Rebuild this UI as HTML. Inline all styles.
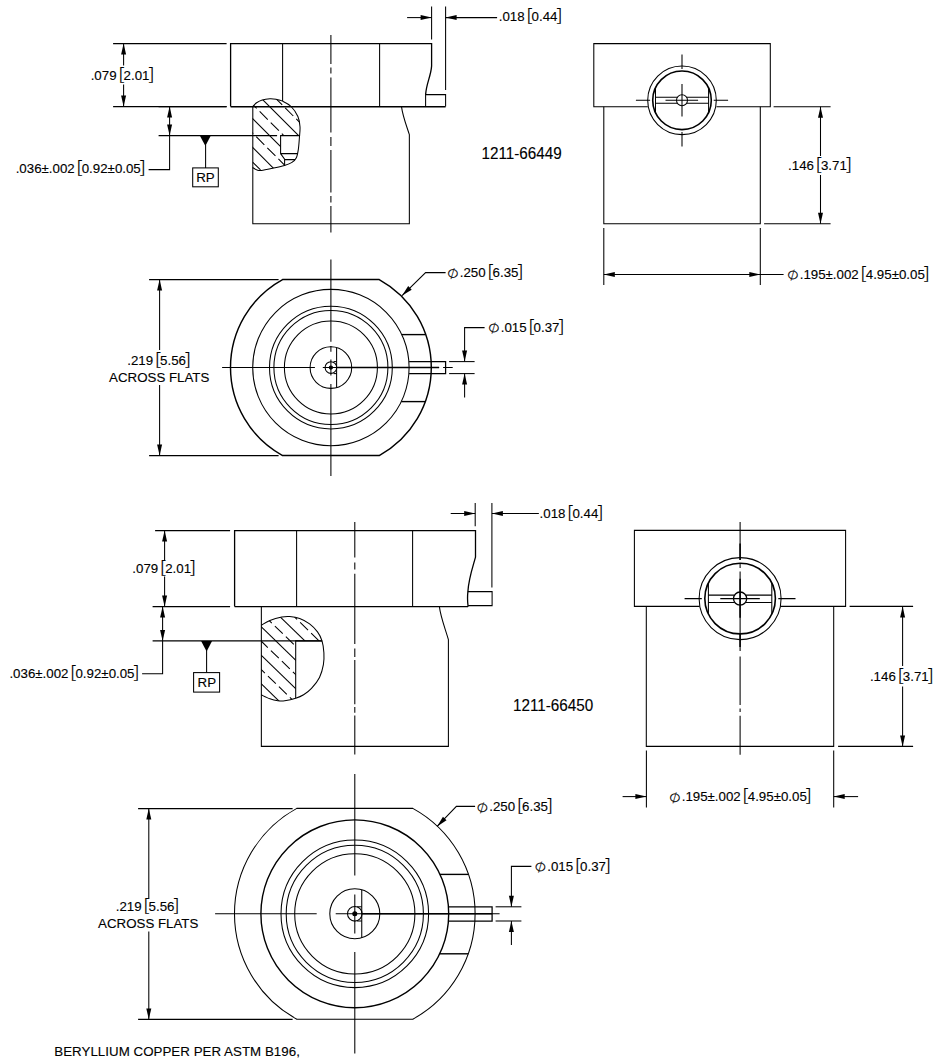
<!DOCTYPE html>
<html><head><meta charset="utf-8"><title>1211-66449 / 1211-66450</title>
<style>
html,body{margin:0;padding:0;background:#fff;}
body{width:948px;height:1059px;overflow:hidden;}
svg{display:block;}
svg line,svg path,svg circle,svg rect{stroke:#000;stroke-width:1.05;fill:none;}
svg .ar{fill:#000;stroke:none;}
svg text{font-family:"Liberation Sans",Arial,sans-serif;font-size:13.3px;fill:#000;stroke:#000;stroke-width:0.12;}
svg text.pn{font-size:16px;}
svg text.br{font-family:"DejaVu Sans Light","DejaVu Sans",sans-serif;font-size:17.6px;fill:#000;stroke:#000;stroke-width:0.1;}
svg text.sym{font-family:"DejaVu Sans","Liberation Sans",sans-serif;font-size:12.1px;fill:#000;stroke:#000;stroke-width:0.15;}
</style></head>
<body>
<svg width="948" height="1059" viewBox="0 0 948 1059">
<g transform="translate(0.1,0.1)">
<g id="d1-front">
<path d="M230.5,106.5V43.5H431.5V66C430.8,76 426.3,83 425.5,94.5" style="stroke-width:1.3;"/>
<path d="M425.5,106.5V94.5H445.5V106.5"/>
<line x1="230.5" y1="106.6" x2="445.5" y2="106.6" style="stroke-width:1.4"/>
<line x1="282.5" y1="43.5" x2="282.5" y2="100.9"/>
<line x1="379.5" y1="43.5" x2="379.5" y2="106.5"/>
<path d="M252.7,106.5V223.7H409.25V134.5C406.5,126 402.6,116 401.4,106.5"/>
<path d="M330.8,35V64M330.8,67.5V73.5M330.8,77.5V132.5M330.8,137V146M330.8,150V192.5M330.8,196V202.5M330.8,206V232.5"/>
<clipPath id="c1"><path d="M252.5,106.5 C253.17,105.87 254.90,103.80 256.50,102.70C258.10,101.60 259.88,100.57 262.10,99.90C264.32,99.23 267.48,98.82 269.80,98.70C272.12,98.58 273.88,98.82 276.00,99.20C278.12,99.58 280.00,99.80 282.50,101.00C285.00,102.20 288.45,103.83 291.00,106.40C293.55,108.97 296.32,113.03 297.80,116.40C299.28,119.77 299.65,123.07 299.90,126.60C300.15,130.13 299.58,133.78 299.30,137.60C299.02,141.42 298.73,146.10 298.20,149.50C297.67,152.90 297.15,155.87 296.10,158.00C295.05,160.13 293.85,161.08 291.90,162.30C289.95,163.52 287.72,164.30 284.40,165.30C281.08,166.30 275.85,167.45 272.00,168.30C268.15,169.15 263.80,170.13 261.30,170.40C258.80,170.67 258.47,170.40 257.00,169.90C255.53,169.40 253.25,167.82 252.50,167.40Z"/></clipPath>
<clipPath id="c1b"><path d="M240,90H320V135.5H280.5V153.5L284.5,159V180H240Z"/></clipPath>
<path d="M252.50,106.50C253.17,105.87 254.90,103.80 256.50,102.70C258.10,101.60 259.88,100.57 262.10,99.90C264.32,99.23 267.48,98.82 269.80,98.70C272.12,98.58 273.88,98.82 276.00,99.20C278.12,99.58 280.00,99.80 282.50,101.00C285.00,102.20 288.45,103.83 291.00,106.40C293.55,108.97 296.32,113.03 297.80,116.40C299.28,119.77 299.65,123.07 299.90,126.60C300.15,130.13 299.58,133.78 299.30,137.60C299.02,141.42 298.73,146.10 298.20,149.50C297.67,152.90 297.15,155.87 296.10,158.00C295.05,160.13 293.85,161.08 291.90,162.30C289.95,163.52 287.72,164.30 284.40,165.30C281.08,166.30 275.85,167.45 272.00,168.30C268.15,169.15 263.80,170.13 261.30,170.40C258.80,170.67 258.47,170.40 257.00,169.90C255.53,169.40 253.25,167.82 252.50,167.40"/>
<g clip-path="url(#c1)"><g clip-path="url(#c1b)">
<line x1="240" y1="77.0" x2="320" y2="157.0"/>
<line x1="240" y1="105.9" x2="320" y2="185.9"/>
<line x1="240" y1="134.8" x2="320" y2="214.8"/>
<line x1="240" y1="62.69999999999999" x2="320" y2="142.7" stroke-dasharray="11.5 4.2" stroke-dashoffset="14.76"/>
<line x1="240" y1="91.80000000000001" x2="320" y2="171.8" stroke-dasharray="11.5 4.2" stroke-dashoffset="3.74"/>
<line x1="240" y1="120.5" x2="320" y2="200.5" stroke-dasharray="11.5 4.2" stroke-dashoffset="8.62"/>
<line x1="240" y1="149.4" x2="320" y2="229.4" stroke-dasharray="11.5 4.2" stroke-dashoffset="14.03"/>
</g></g>
<path d="M299.5,135.5H280.5V153.5H297M280.5,153.5L284.5,159V165.3M284.5,159.5H295"/>
</g>
<g id="d1-front-dims">
<line x1="113" y1="43.5" x2="226.5" y2="43.5"/>
<line x1="113" y1="106.5" x2="226.5" y2="106.5"/>
<line x1="158.5" y1="106.5" x2="226.5" y2="106.5"/>
<path d="M123.5,43.5V65.5M123.5,84.5V106.5"/>
<polygon class="ar" points="123.50,43.50 126.00,54.50 121.00,54.50"/>
<polygon class="ar" points="123.50,106.50 121.00,95.50 126.00,95.50"/>
<text x="90.55" y="80.00">.079</text>
<text class="br" transform="translate(117.54,80.90) scale(1.25,1)">[</text>
<text x="123.44" y="80.00">2.01</text>
<text class="br" text-anchor="end" transform="translate(154.92,80.90) scale(1.25,1)">]</text>
<line x1="158.5" y1="135.5" x2="277" y2="135.5"/>
<path d="M169.5,106.5V169.5H148.5"/>
<polygon class="ar" points="169.50,106.50 172.00,117.50 167.00,117.50"/>
<polygon class="ar" points="169.50,135.50 167.00,124.50 172.00,124.50"/>
<text x="15.55" y="173.00">.036±.002</text>
<text class="br" transform="translate(75.72,173.90) scale(1.25,1)">[</text>
<text x="81.62" y="173.00">0.92±0.05</text>
<text class="br" text-anchor="end" transform="translate(146.29,173.90) scale(1.25,1)">]</text>
<polygon class="ar" points="199.8,135.7 210.6,135.7 205.3,146"/>
<line x1="205.5" y1="145" x2="205.5" y2="167.8"/>
<rect x="192.6" y="167.8" width="25.6" height="18.9"/>
<text x="205.40" y="181.60" text-anchor="middle">RP</text>
<line x1="431.5" y1="6.5" x2="431.5" y2="39.5"/>
<line x1="445.5" y1="6.5" x2="445.5" y2="90"/>
<line x1="407" y1="17.5" x2="431.5" y2="17.5"/>
<polygon class="ar" points="431.50,17.50 420.50,20.00 420.50,15.00"/>
<line x1="445.5" y1="17.5" x2="497" y2="17.5"/>
<polygon class="ar" points="445.50,17.50 456.50,15.00 456.50,20.00"/>
<text x="498.60" y="21.00">.018</text>
<text class="br" transform="translate(525.59,21.90) scale(1.25,1)">[</text>
<text x="531.49" y="21.00">0.44</text>
<text class="br" text-anchor="end" transform="translate(562.97,21.90) scale(1.25,1)">]</text>
<text class="pn" transform="translate(481.4,158.8) scale(0.952,1)">1211-66449</text>
</g>
<g id="d1-right">
<path d="M647.7,106.7H593.7V43.5H770.2V106.7H716.4"/>
<path d="M603.7,106.7V223.7H760.2V106.7"/>
<circle cx="681.9" cy="100.2" r="34.3"/>
<circle cx="681.9" cy="100.2" r="29.3" style="stroke-width:1.6;"/>
<circle cx="681.9" cy="100.2" r="5.5"/>
<path d="M655.4,86.8V113.6"/>
<path d="M708.5,86.8V113.6"/>
<path d="M655.4,97.1H677.3M686.5,97.1H708.5"/>
<path d="M655.4,103.2H677.3M686.5,103.2H708.5"/>
<path d="M681.9,54.4V68.8M681.9,84V116.5M681.9,132V146.3"/>
<path d="M635.8,100.2H650M665.4,100.2H698M713.6,100.2H728"/>
<line x1="773.5" y1="106.7" x2="830.5" y2="106.7"/>
<line x1="764" y1="223.7" x2="830.5" y2="223.7"/>
<path d="M820.4,106.7V156M820.4,175V223.7"/>
<polygon class="ar" points="820.40,106.70 822.90,117.70 817.90,117.70"/>
<polygon class="ar" points="820.40,223.70 817.90,212.70 822.90,212.70"/>
<text x="788.00" y="170.00">.146</text>
<text class="br" transform="translate(814.99,170.90) scale(1.25,1)">[</text>
<text x="820.89" y="170.00">3.71</text>
<text class="br" text-anchor="end" transform="translate(852.37,170.90) scale(1.25,1)">]</text>
<line x1="603.7" y1="228" x2="603.7" y2="285"/>
<line x1="760.2" y1="228" x2="760.2" y2="285"/>
<line x1="603.7" y1="274.4" x2="783.5" y2="274.4"/>
<polygon class="ar" points="603.70,274.40 614.70,271.90 614.70,276.90"/>
<polygon class="ar" points="760.20,274.40 749.20,276.90 749.20,271.90"/>
<text class="sym" text-anchor="middle" transform="translate(792.80,274.60) scale(1.1,1) rotate(-24)" y="4.45">∅</text>
<text x="799.60" y="278.50">.195±.002</text>
<text class="br" transform="translate(859.77,279.40) scale(1.25,1)">[</text>
<text x="865.67" y="278.50">4.95±0.05</text>
<text class="br" text-anchor="end" transform="translate(930.34,279.40) scale(1.25,1)">]</text>
</g>
<g id="d1-bottom">
<path d="M282.47,279.45H379.13A100.4,100.4 0 0 1 379.13,455.45H282.47A100.4,100.4 0 0 1 282.47,279.45Z" style="stroke-width:1.45;"/>
<circle cx="330.8" cy="367.45" r="78.2"/>
<circle cx="330.8" cy="367.45" r="61.4"/>
<circle cx="330.8" cy="367.45" r="57.0"/>
<circle cx="330.8" cy="367.45" r="46.5"/>
<circle cx="330.8" cy="367.45" r="20.8"/>
<circle cx="330.8" cy="367.45" r="5.8"/>
<circle cx="330.8" cy="367.45" r="1.6" style="fill:#000;"/>
<path d="M336.5,347.6V387.4"/>
<path d="M333.5,361.5H336.5"/>
<path d="M333.5,373.5H336.5"/>
<path d="M401.7,334.5H425.6" style="stroke-width:1.4;"/>
<path d="M401.2,401.5H425.2" style="stroke-width:1.4;"/>
<path d="M409,361.5H445.5V373.5H409" style="stroke-width:1.25;"/>
<path d="M330.8,259.5V341.6M330.8,345.8V351.6M330.8,359.5V375.4M330.8,383.8V476"/>
<path d="M222,367.45H314.8M322.7,367.45H439M443,367.45H452.6"/>
<path d="M337,367.45H439" style="stroke-width:1.5;"/>
<line x1="149" y1="279.5" x2="278.5" y2="279.5"/>
<line x1="149" y1="455.5" x2="278.5" y2="455.5"/>
<path d="M159.5,279.5V350M159.5,385V455.5"/>
<polygon class="ar" points="159.50,279.50 162.00,290.50 157.00,290.50"/>
<polygon class="ar" points="159.50,455.50 157.00,444.50 162.00,444.50"/>
<text x="127.10" y="364.50">.219</text>
<text class="br" transform="translate(154.09,365.40) scale(1.25,1)">[</text>
<text x="159.99" y="364.50">5.56</text>
<text class="br" text-anchor="end" transform="translate(191.47,365.40) scale(1.25,1)">]</text>
<text x="109.00" y="381.50">ACROSS FLATS</text>
<path d="M445.5,272.5H425.5L402,295.5"/>
<polygon class="ar" points="402.00,295.50 408.11,286.02 411.61,289.59"/>
<text class="sym" text-anchor="middle" transform="translate(452.80,273.10) scale(1.1,1) rotate(-24)" y="4.45">∅</text>
<text x="459.60" y="277.00">.250</text>
<text class="br" transform="translate(486.59,277.90) scale(1.25,1)">[</text>
<text x="492.49" y="277.00">6.35</text>
<text class="br" text-anchor="end" transform="translate(523.97,277.90) scale(1.25,1)">]</text>
<line x1="449" y1="361.5" x2="474.5" y2="361.5"/>
<line x1="449" y1="373.5" x2="474.5" y2="373.5"/>
<path d="M484.5,327.5H464.5V361.5"/>
<polygon class="ar" points="464.50,361.50 462.00,350.50 467.00,350.50"/>
<line x1="464.5" y1="373.5" x2="464.5" y2="397.5"/>
<polygon class="ar" points="464.50,373.50 467.00,384.50 462.00,384.50"/>
<text class="sym" text-anchor="middle" transform="translate(493.80,327.80) scale(1.1,1) rotate(-24)" y="4.45">∅</text>
<text x="500.60" y="331.70">.015</text>
<text class="br" transform="translate(527.59,332.60) scale(1.25,1)">[</text>
<text x="533.49" y="331.70">0.37</text>
<text class="br" text-anchor="end" transform="translate(564.97,332.60) scale(1.25,1)">]</text>
</g>
<g id="d2-front">
<path d="M234.5,606.5V530.5H475.4V557C473,566 468.6,578 467.8,591.5C467.2,597 467.4,602 468,606.5" style="stroke-width:1.3;"/>
<path d="M467.8,591.5H492V605.5H468"/>
<line x1="234.5" y1="606.5" x2="468" y2="606.5" style="stroke-width:1.3"/>
<line x1="296.5" y1="530.5" x2="296.5" y2="606.5"/>
<line x1="412.5" y1="530.5" x2="412.5" y2="606.5"/>
<path d="M261.25,606.5V746.3H448.3V639.5C445,628 440.5,617 439.3,606.5"/>
<path d="M354.7,522V557.5M354.7,562.5V569.5M354.7,573.75V644M354.7,648.5V657M354.7,660V704.2M354.7,707V712.6M354.7,715.5V754.5"/>
<clipPath id="c2"><path d="M261.00,625.30C262.47,624.48 266.35,621.80 269.80,620.40C273.25,619.00 278.40,617.57 281.70,616.90C285.00,616.23 286.62,616.15 289.60,616.40C292.58,616.65 296.28,617.17 299.60,618.40C302.92,619.63 306.53,621.57 309.50,623.80C312.47,626.03 315.33,628.98 317.40,631.80C319.47,634.62 320.83,637.23 321.90,640.70C322.97,644.17 323.57,648.63 323.80,652.60C324.03,656.57 324.03,660.38 323.30,664.50C322.57,668.62 321.38,673.33 319.40,677.30C317.42,681.27 314.05,685.40 311.40,688.30C308.75,691.20 306.13,693.05 303.50,694.70C300.87,696.35 298.73,697.22 295.60,698.20C292.47,699.18 287.67,700.20 284.70,700.60C281.73,701.00 280.28,700.92 277.80,700.60C275.32,700.28 272.60,699.68 269.80,698.70C267.00,697.72 262.47,695.37 261.00,694.70Z"/></clipPath>
<clipPath id="c2b"><path d="M250,600H330V640.8H295.6V710H250Z"/></clipPath>
<path d="M261.00,625.30C262.47,624.48 266.35,621.80 269.80,620.40C273.25,619.00 278.40,617.57 281.70,616.90C285.00,616.23 286.62,616.15 289.60,616.40C292.58,616.65 296.28,617.17 299.60,618.40C302.92,619.63 306.53,621.57 309.50,623.80C312.47,626.03 315.33,628.98 317.40,631.80C319.47,634.62 320.83,637.23 321.90,640.70C322.97,644.17 323.57,648.63 323.80,652.60C324.03,656.57 324.03,660.38 323.30,664.50C322.57,668.62 321.38,673.33 319.40,677.30C317.42,681.27 314.05,685.40 311.40,688.30C308.75,691.20 306.13,693.05 303.50,694.70C300.87,696.35 298.73,697.22 295.60,698.20C292.47,699.18 287.67,700.20 284.70,700.60C281.73,701.00 280.28,700.92 277.80,700.60C275.32,700.28 272.60,699.68 269.80,698.70C267.00,697.72 262.47,695.37 261.00,694.70"/>
<g clip-path="url(#c2)"><g clip-path="url(#c2b)">
<line x1="261" y1="598.3" x2="331" y2="666.1999999999999"/>
<line x1="261" y1="626.5" x2="331" y2="694.4"/>
<line x1="261" y1="655.0" x2="331" y2="722.9"/>
<line x1="261" y1="683.6" x2="331" y2="751.5"/>
<line x1="261" y1="584.5" x2="331" y2="652.4" stroke-dasharray="11 4.3" stroke-dashoffset="6.8"/>
<line x1="261" y1="612.6" x2="331" y2="680.5" stroke-dasharray="11 4.3" stroke-dashoffset="11.4"/>
<line x1="261" y1="640.9" x2="331" y2="708.8" stroke-dasharray="11 4.3" stroke-dashoffset="1.63"/>
<line x1="261" y1="669.3" x2="331" y2="737.1999999999999" stroke-dasharray="11 4.3" stroke-dashoffset="5.77"/>
</g></g>
<path d="M322,640.8H295.6V698.2"/>
</g>
<g id="d2-front-dims">
<line x1="155" y1="530.5" x2="230" y2="530.5"/>
<line x1="152.5" y1="606.5" x2="230" y2="606.5"/>
<path d="M164.5,530.5V560M164.5,576.5V606.5"/>
<polygon class="ar" points="164.50,530.50 167.00,541.50 162.00,541.50"/>
<polygon class="ar" points="164.50,606.50 162.00,595.50 167.00,595.50"/>
<text x="132.20" y="573.00">.079</text>
<text class="br" transform="translate(159.19,573.90) scale(1.25,1)">[</text>
<text x="165.09" y="573.00">2.01</text>
<text class="br" text-anchor="end" transform="translate(196.57,573.90) scale(1.25,1)">]</text>
<line x1="152.5" y1="640.8" x2="322" y2="640.8"/>
<path d="M162.5,606.5V673.7H142"/>
<polygon class="ar" points="162.50,606.50 165.00,617.50 160.00,617.50"/>
<polygon class="ar" points="162.50,640.80 160.00,629.80 165.00,629.80"/>
<text x="9.30" y="678.00">.036±.002</text>
<text class="br" transform="translate(69.47,678.90) scale(1.25,1)">[</text>
<text x="75.37" y="678.00">0.92±0.05</text>
<text class="br" text-anchor="end" transform="translate(140.04,678.90) scale(1.25,1)">]</text>
<polygon class="ar" points="201,640.8 212,640.8 206.5,651.5"/>
<line x1="206.5" y1="650" x2="206.5" y2="672.5"/>
<rect x="193.5" y="672.5" width="26" height="19.5"/>
<text x="206.70" y="687.00" text-anchor="middle">RP</text>
<line x1="475.1" y1="503" x2="475.1" y2="526.2"/>
<line x1="491.8" y1="503" x2="491.8" y2="587.4"/>
<line x1="450.6" y1="513.4" x2="475.1" y2="513.4"/>
<polygon class="ar" points="475.10,513.40 464.10,515.90 464.10,510.90"/>
<line x1="491.8" y1="513.4" x2="538.75" y2="513.4"/>
<polygon class="ar" points="491.80,513.40 502.80,510.90 502.80,515.90"/>
<text x="539.50" y="517.50">.018</text>
<text class="br" transform="translate(566.49,518.40) scale(1.25,1)">[</text>
<text x="572.39" y="517.50">0.44</text>
<text class="br" text-anchor="end" transform="translate(603.87,518.40) scale(1.25,1)">]</text>
<text class="pn" transform="translate(512.9,710.6) scale(0.952,1)">1211-66450</text>
</g>
<g id="d2-right">
<path d="M699.5,606.3H634.3V530.3H845.5V606.3H780.5"/>
<path d="M646.2,606.3V746.3H833.6V606.3"/>
<circle cx="740.0" cy="598.5" r="41"/>
<circle cx="740.0" cy="598.5" r="35.3" style="stroke-width:1.6;"/>
<circle cx="740.0" cy="598.5" r="6.6" style="stroke-width:1.3;"/>
<path d="M708.3,582.7V614.3"/>
<path d="M771.7,582.7V614.3"/>
<path d="M708.3,595.0H734.4M745.6,595.0H771.7"/>
<path d="M708.3,602.4H734.7M745.3,602.4H771.7"/>
<path d="M684.5,598.5H701.7M720.2,598.5H759.7M778.2,598.5H795.4"/>
<path d="M740.0,522V560M740.0,563.5V568M740.0,571.5V651M740.0,656.5V705M740.0,708.5V712M740.0,715.7V754.6"/>
<path d="M740.0,543.3V560M740.0,578.7V617.7M740.0,633V647" style="stroke-width:1.5;"/>
<line x1="849.5" y1="606.3" x2="913" y2="606.3"/>
<line x1="838" y1="746.3" x2="913" y2="746.3"/>
<path d="M902.5,606.3V666M902.5,686.5V746.3"/>
<polygon class="ar" points="902.50,606.30 905.00,617.30 900.00,617.30"/>
<polygon class="ar" points="902.50,746.30 900.00,735.30 905.00,735.30"/>
<text x="869.80" y="681.00">.146</text>
<text class="br" transform="translate(896.79,681.90) scale(1.25,1)">[</text>
<text x="902.69" y="681.00">3.71</text>
<text class="br" text-anchor="end" transform="translate(934.17,681.90) scale(1.25,1)">]</text>
<line x1="646.3" y1="750.5" x2="646.3" y2="807.5"/>
<line x1="833.6" y1="750.5" x2="833.6" y2="807.5"/>
<line x1="622.5" y1="796.5" x2="646.3" y2="796.5"/>
<polygon class="ar" points="646.30,796.50 635.30,799.00 635.30,794.00"/>
<line x1="833.6" y1="796.5" x2="858" y2="796.5"/>
<polygon class="ar" points="833.60,796.50 844.60,794.00 844.60,799.00"/>
<text class="sym" text-anchor="middle" transform="translate(674.80,797.40) scale(1.1,1) rotate(-24)" y="4.45">∅</text>
<text x="681.60" y="801.30">.195±.002</text>
<text class="br" transform="translate(741.77,802.20) scale(1.25,1)">[</text>
<text x="747.67" y="801.30">4.95±0.05</text>
<text class="br" text-anchor="end" transform="translate(812.34,802.20) scale(1.25,1)">]</text>
</g>
<g id="d2-bottom">
<path d="M296.71,808.30H412.69A120.3,120.3 0 0 1 412.69,1019.10H296.71A120.3,120.3 0 0 1 296.71,808.30Z"/>
<circle cx="354.7" cy="913.7" r="93.9" style="stroke-width:1.4;"/>
<circle cx="354.7" cy="913.7" r="73.8"/>
<circle cx="354.7" cy="913.7" r="68.6"/>
<circle cx="354.7" cy="913.7" r="60.1"/>
<circle cx="354.7" cy="913.7" r="25.0"/>
<circle cx="354.7" cy="913.7" r="7.3"/>
<circle cx="354.7" cy="913.7" r="2.0" style="fill:#000;"/>
<path d="M361.65,889.7V937.7"/>
<path d="M357,906.7H361.65"/>
<path d="M357,920.9H361.65"/>
<path d="M439.9,874.3H468.4" style="stroke-width:1.4;"/>
<path d="M439.7,953.7H468.2" style="stroke-width:1.4;"/>
<path d="M448.7,906.7H492V920.9H448.7" style="stroke-width:1.25;"/>
<path d="M354.7,774V875.3M354.7,894.3V933.5M354.7,951.9V1053.3"/>
<path d="M215,913.7H316.6M335.6,913.7H499.5"/>
<path d="M362,913.7H492" style="stroke-width:1.4;"/>
<line x1="138" y1="808.5" x2="292.5" y2="808.5"/>
<line x1="138" y1="1019.3" x2="292.5" y2="1019.3"/>
<path d="M148.7,808.5V898.7M148.7,931.3V1019.3"/>
<polygon class="ar" points="148.70,808.50 151.20,819.50 146.20,819.50"/>
<polygon class="ar" points="148.70,1019.30 146.20,1008.30 151.20,1008.30"/>
<text x="115.60" y="910.50">.219</text>
<text class="br" transform="translate(142.59,911.40) scale(1.25,1)">[</text>
<text x="148.49" y="910.50">5.56</text>
<text class="br" text-anchor="end" transform="translate(179.97,911.40) scale(1.25,1)">]</text>
<text x="98.00" y="927.50">ACROSS FLATS</text>
<path d="M475,806.3H456.3L437,826.3"/>
<polygon class="ar" points="437.00,826.30 442.84,816.65 446.44,820.12"/>
<text class="sym" text-anchor="middle" transform="translate(482.30,807.40) scale(1.1,1) rotate(-24)" y="4.45">∅</text>
<text x="489.10" y="811.30">.250</text>
<text class="br" transform="translate(516.09,812.20) scale(1.25,1)">[</text>
<text x="521.99" y="811.30">6.35</text>
<text class="br" text-anchor="end" transform="translate(553.47,812.20) scale(1.25,1)">]</text>
<line x1="495.5" y1="906.7" x2="521.3" y2="906.7"/>
<line x1="495.5" y1="920.9" x2="521.3" y2="920.9"/>
<path d="M531.3,866.3H511.3V906.7"/>
<polygon class="ar" points="511.30,906.70 508.80,895.70 513.80,895.70"/>
<line x1="511.3" y1="920.9" x2="511.3" y2="945"/>
<polygon class="ar" points="511.30,920.90 513.80,931.90 508.80,931.90"/>
<text class="sym" text-anchor="middle" transform="translate(540.30,866.60) scale(1.1,1) rotate(-24)" y="4.45">∅</text>
<text x="547.10" y="870.50">.015</text>
<text class="br" transform="translate(574.09,871.40) scale(1.25,1)">[</text>
<text x="579.99" y="870.50">0.37</text>
<text class="br" text-anchor="end" transform="translate(611.47,871.40) scale(1.25,1)">]</text>
</g>
<text x="54.20" y="1056.20" letter-spacing="0.04">BERYLLIUM COPPER PER ASTM B196,</text>
</g>
</svg>
</body></html>
